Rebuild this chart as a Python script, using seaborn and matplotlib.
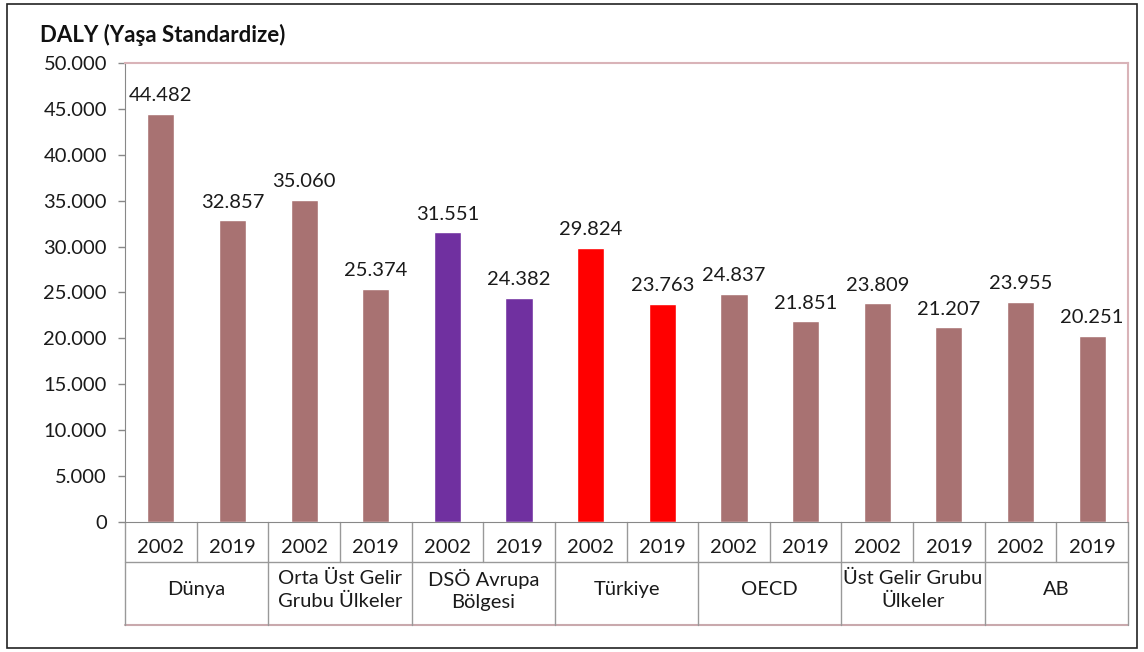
import pandas as pd
import matplotlib
matplotlib.use("Agg")
import matplotlib.pyplot as plt
import seaborn as sns

# --- Data ---
regions = ['Dünya', 'Orta Üst Gelir\nGrubu Ülkeler', 'DSÖ Avrupa\nBölgesi', 'Türkiye',
           'OECD', 'Üst Gelir Grubu\nÜlkeler', 'AB']
years = ['2002', '2019']
daly_2002 = [44482, 35060, 31551, 29824, 24837, 23809, 23955]
daly_2019 = [32857, 25374, 24382, 23763, 21851, 21207, 20251]
region_colors = ['#A87272', '#A87272', '#7030A0', '#FF0000', '#A87272', '#A87272', '#A87272']

rows = []
for i, r in enumerate(regions):
    rows.append({'Bölge': r, 'Yıl': '2002', 'DALY': daly_2002[i], 'key': f'{i}-2002'})
    rows.append({'Bölge': r, 'Yıl': '2019', 'DALY': daly_2019[i], 'key': f'{i}-2019'})
df = pd.DataFrame(rows)
palette = {k: region_colors[int(k.split('-')[0])] for k in df['key']}

# --- Plot ---
sns.set_style('white')
plt.rcParams['font.family'] = ['Lato', 'DejaVu Sans']
FS = 14.5
TXT = '#1a1a1a'

fig = plt.figure(figsize=(11.44, 6.52), dpi=100)
ax = fig.add_axes([0.1093, 0.1994, 0.8767, 0.704])

sns.barplot(data=df, x='key', y='DALY', hue='key', palette=palette, order=list(df['key']),
            width=0.38, legend=False, ax=ax, saturation=1)

ax.set_ylim(0, 50000)
ax.set_xlim(-0.5, len(df) - 0.5)
yt = list(range(0, 50001, 5000))
ax.set_yticks(yt)
ax.set_yticklabels([f'{v:,.0f}'.replace(',', '.') for v in yt], fontsize=FS, color=TXT)
ax.tick_params(axis='y', length=5, width=1, color='#888888', pad=8, left=True)
ax.set_xticks([])
ax.set_xlabel('')
ax.set_ylabel('')

for s in ['top', 'right']:
    ax.spines[s].set_color('#D9B3B8')
    ax.spines[s].set_linewidth(1.5)
ax.spines['left'].set_color('#888888')
ax.spines['bottom'].set_color('#888888')

# value labels
for p, v in zip(ax.patches, df['DALY']):
    ax.annotate(f'{v:,.0f}'.replace(',', '.'), (p.get_x() + p.get_width() / 2, p.get_height()),
                xytext=(0, 7), textcoords='offset points', ha='center', va='bottom',
                fontsize=FS, color=TXT)

# category table below the axis
trans = ax.get_xaxis_transform()
y1, y2 = -0.087, -0.224
n = len(df)
line_kw = dict(color='#999999', lw=1, transform=trans, clip_on=False)
ax.plot([-0.5, n - 0.5], [y1, y1], **line_kw)
ax.plot([-0.5, n - 0.5], [y2, y2], color='#C9A9AD', lw=1.5, transform=trans, clip_on=False)
for j in range(n + 1):
    x = j - 0.5
    bottom = y2 if j % 2 == 0 else y1
    ax.plot([x, x], [0, bottom], **line_kw)
for j, yr in enumerate(df['Yıl']):
    ax.text(j, -0.055, yr, transform=trans, ha='center', va='center', fontsize=FS, color=TXT)
for i, r in enumerate(regions):
    ax.text(2 * i + 0.5, -0.148, r, transform=trans, ha='center', va='center', fontsize=FS,
            color=TXT, linespacing=1.4)

fig.text(0.035, 0.946, 'DALY (Yaşa Standardize)', fontsize=16, fontweight='bold', color='#111111',
         ha='left', va='center')

# outer frame
fig.patches.append(plt.Rectangle((0.006, 0.006), 0.988, 0.988, transform=fig.transFigure,
                                 fill=False, edgecolor='#222222', lw=1.2))

fig.savefig('out.png', dpi=100)
